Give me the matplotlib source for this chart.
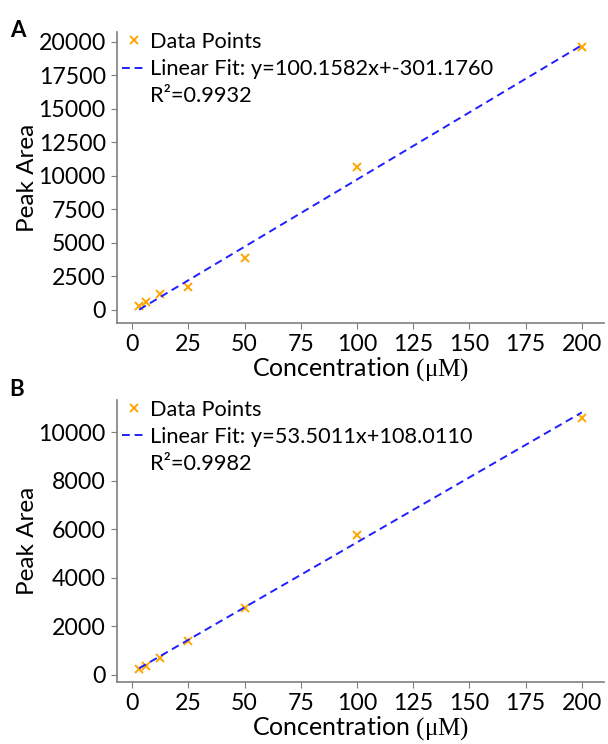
import numpy as np
import matplotlib
matplotlib.use("Agg")
import matplotlib.pyplot as plt

plt.rcParams["font.family"] = ["Lato", "DejaVu Sans"]
plt.rcParams["mathtext.fontset"] = "custom"
plt.rcParams["mathtext.rm"] = "Liberation Serif"
plt.rcParams["mathtext.it"] = "Liberation Serif:italic"

# concentrations (uM) and peak areas
conc = [3.125, 6.25, 12.5, 25, 50, 100, 200]
area_a = [320, 570, 1190, 1730, 3840, 10620, 19580]
area_b = [230, 380, 715, 1405, 2745, 5770, 10560]

fit_a = (100.1582, -301.1760, 0.9932)
fit_b = (53.5011, 108.0110, 0.9982)

yticks_a = np.arange(0, 20001, 2500)
yticks_b = np.arange(0, 10001, 2000)
xticks = np.arange(0, 201, 25)

ORANGE = "#FFA500"
BLUE = "#1F1FFF"
GREY = "#7f7f7f"

fig = plt.figure(figsize=(6.08, 7.44), dpi=100)
ax_a = fig.add_axes([0.1924, 0.566, 0.801, 0.391])
ax_b = fig.add_axes([0.1924, 0.083, 0.801, 0.380])


def panel(ax, y, fit, yticks):
    m, b, r2 = fit
    x = np.array(conc)
    ax.plot(x, y, "x", color=ORANGE, ms=5.5, mew=1.4, label="Data Points")
    sign = "+" if b >= 0 else "+-"
    ax.plot(x, m * x + b, "--", color=BLUE, lw=1.4, dashes=(4, 2.5),
            label=f"Linear Fit: y={m:.4f}x{sign}{abs(b):.4f}")
    ax.plot([], [], " ", label=f"R²={r2:.4f}")
    ax.set_xticks(xticks)
    ax.set_yticks(yticks)
    for s in ["top", "right"]:
        ax.spines[s].set_visible(False)
    for s in ["left", "bottom"]:
        ax.spines[s].set_color(GREY)
        ax.spines[s].set_linewidth(1.2)
    ax.tick_params(direction="out", length=4, color=GREY, labelsize=16.7,
                   pad=4)
    ax.set_xlabel("Concentration $(\\mathrm{\u03bcM})$", fontsize=18,
                  labelpad=0)
    ax.set_ylabel("Peak Area", fontsize=17.5, labelpad=0)
    ax.legend(loc="upper left", bbox_to_anchor=(0.01, 1.0), frameon=False,
              fontsize=15.7, handlelength=1.15, handletextpad=0.15,
              labelspacing=0.33, borderaxespad=0, borderpad=0)


panel(ax_a, area_a, fit_a, yticks_a)
panel(ax_b, area_b, fit_b, yticks_b)

fig.text(0.016, 0.959, "A", fontsize=16, fontweight="bold", va="center")
fig.text(0.016, 0.476, "B", fontsize=16, fontweight="bold", va="center")

fig.savefig("out.png", dpi=100)
